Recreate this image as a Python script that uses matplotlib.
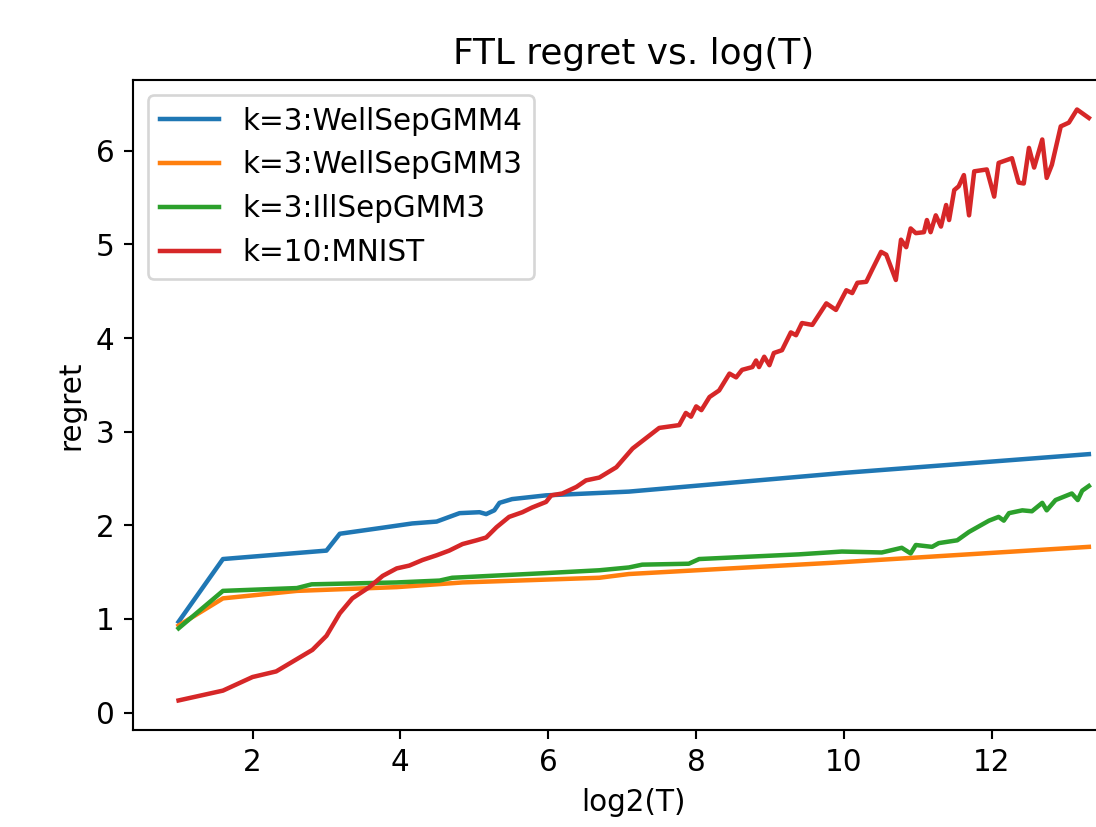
import matplotlib
matplotlib.use("Agg")
import matplotlib.pyplot as plt

# ...Series (x = log2(T))
well4_x = [1.0, 1.6, 3.0, 3.18, 3.72, 4.16, 4.49, 4.8, 5.07, 5.16, 5.27, 5.34,
           5.51, 5.97, 7.09, 10.0, 13.31]
well4_y = [0.97, 1.64, 1.73, 1.91, 1.97, 2.02, 2.04, 2.13, 2.14, 2.12, 2.16, 2.24,
           2.28, 2.32, 2.36, 2.56, 2.76]

well3_x = [1.0, 1.6, 2.6, 3.95, 4.84, 6.69, 7.09, 9.84, 13.31]
well3_y = [0.93, 1.22, 1.30, 1.34, 1.39, 1.44, 1.48, 1.60, 1.77]

ill3_x = [1.0, 1.6, 2.6, 2.8, 3.95, 4.53, 4.7, 5.97, 6.69, 7.09, 7.27, 7.9, 8.04,
          9.39, 9.97, 10.51, 10.78, 10.9, 10.97, 11.19, 11.28, 11.53, 11.69, 11.96,
          12.09, 12.16, 12.23, 12.41, 12.54, 12.68, 12.74, 12.86, 13.08, 13.16,
          13.22, 13.31]
ill3_y = [0.90, 1.30, 1.33, 1.37, 1.39, 1.41, 1.44, 1.49, 1.52, 1.55, 1.58, 1.59, 1.64,
          1.69, 1.72, 1.71, 1.76, 1.70, 1.79, 1.77, 1.81, 1.84, 1.93, 2.05,
          2.09, 2.05, 2.13, 2.16, 2.15, 2.24, 2.16, 2.27, 2.34, 2.27,
          2.37, 2.42]

mnist_x = [1.0, 1.6, 2.0, 2.32, 2.81, 3.0, 3.18, 3.35, 3.58, 3.76, 3.95, 4.12, 4.3,
           4.49, 4.66, 4.84, 5.03, 5.16, 5.3, 5.47, 5.65, 5.78, 5.97, 6.04, 6.19,
           6.38, 6.51, 6.69, 6.92, 7.14, 7.5, 7.77, 7.86, 7.93, 8.0, 8.07, 8.18,
           8.31, 8.45, 8.54, 8.62, 8.76, 8.81, 8.85, 8.92, 8.99, 9.05, 9.16, 9.28,
           9.35, 9.43, 9.57, 9.76, 9.89, 10.03, 10.11, 10.18, 10.3, 10.38, 10.5,
           10.57, 10.7, 10.77, 10.84, 10.9, 10.97, 11.08, 11.12, 11.17, 11.24,
           11.31, 11.38, 11.42, 11.49, 11.55, 11.62, 11.69, 11.76, 11.93, 12.03,
           12.09, 12.27, 12.36, 12.43, 12.5, 12.57, 12.68, 12.74, 12.81, 12.93,
           13.04, 13.15, 13.31]
mnist_y = [0.13, 0.235, 0.38, 0.44, 0.67, 0.82, 1.06, 1.22, 1.34, 1.46, 1.54, 1.57,
           1.63, 1.68, 1.73, 1.80, 1.84, 1.87, 1.98, 2.09, 2.14, 2.19, 2.25, 2.32,
           2.34, 2.41, 2.48, 2.51, 2.62, 2.82, 3.04, 3.07, 3.20, 3.16, 3.27, 3.23,
           3.37, 3.44, 3.62, 3.58, 3.66, 3.69, 3.76, 3.69, 3.80, 3.71, 3.84, 3.87,
           4.06, 4.03, 4.16, 4.14, 4.37, 4.30, 4.51, 4.48, 4.59, 4.60, 4.73, 4.92,
           4.89, 4.62, 5.05, 4.97, 5.17, 5.12, 5.13, 5.26, 5.13, 5.31, 5.19, 5.42,
           5.26, 5.58, 5.62, 5.74, 5.31, 5.78, 5.80, 5.51, 5.87, 5.92, 5.66, 5.65,
           6.03, 5.82, 6.12, 5.71, 5.85, 6.26, 6.30, 6.44, 6.35]

labels = ["k=3:WellSepGMM4", "k=3:WellSepGMM3", "k=3:IllSepGMM3", "k=10:MNIST"]


def main():
    plt.rcParams["font.size"] = 11.2
    plt.rcParams["lines.linewidth"] = 1.7

    dpi = 190
    fig = plt.figure(figsize=(1096 / dpi, 827 / dpi), dpi=dpi)
    # ...The reference is cropped on the right, so the axes run past the figure edge
    ax = fig.add_axes([0.1214, 0.1173, 0.9136, 0.786])

    ax.plot(well4_x, well4_y, label=labels[0])
    ax.plot(well3_x, well3_y, label=labels[1])
    ax.plot(ill3_x, ill3_y, label=labels[2])
    ax.plot(mnist_x, mnist_y, label=labels[3])

    ax.set_title("FTL regret vs. log(T)", fontsize=13.6)
    ax.set_xlabel("log2(T)")
    ax.set_ylabel("regret")
    ax.set_xticks([2, 4, 6, 8, 10, 12])
    ax.set_yticks([0, 1, 2, 3, 4, 5, 6])
    ax.legend(loc="upper left")

    fig.savefig("out.png", dpi=dpi)


if __name__ == "__main__":
    main()
